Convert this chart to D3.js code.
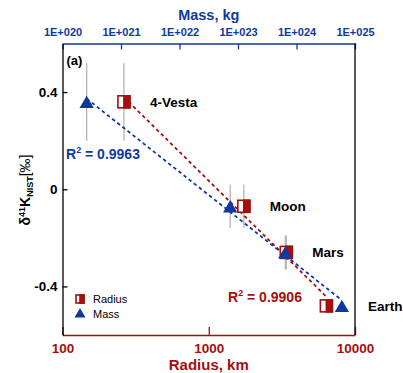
<!DOCTYPE html>
<html>
<head>
<meta charset="utf-8">
<title>d41K vs radius and mass</title>
<script src="https://d3js.org/d3.v7.min.js"></script>
<style>
  body { margin: 0; background: #fff; }
  text { font-family: "Liberation Sans", Arial, sans-serif; }
</style>
</head>
<body>
<div id="chart"></div>
<script>
// data
const bodies = ["4-Vesta", "Moon", "Mars", "Earth"];
const radiusKm = [263, 1737, 3390, 6371];
const massKg = [2.59e20, 7.35e22, 6.42e23, 5.97e24];
const delta41K = [0.36, -0.07, -0.26, -0.48];
const deltaErr = [0.16, 0.09, 0.07, 0.02];
const r2Radius = "0.9906";
const r2Mass = "0.9963";

const radiusTicks = [100, 1000, 10000];
const massTicks = [1e20, 1e21, 1e22, 1e23, 1e24, 1e25];
const massTickLabels = ["1E+020", "1E+021", "1E+022", "1E+023", "1E+024", "1E+025"];
const yTicks = [-0.4, 0, 0.4];
const yTickLabels = ["-0.4", "0", "0.4"];
const yMinor = [-0.6, -0.2, 0.2, 0.6];

const red = "#a50f0f", blue = "#0f3a9c";

let W = 403, H = 373;
let margin = {top: 43.5, right: 48, bottom: 38, left: 62.5};
let w = W - margin.left - margin.right;
let h = H - margin.top - margin.bottom;

let svg = d3.select("#chart").append("svg")
    .attr("width", W).attr("height", H);
let g = svg.append("g")
    .attr("transform", "translate(" + margin.left + "," + margin.top + ")");

let xR = d3.scaleLog().domain([100, 10000]).range([0, w]);
let xM = d3.scaleLog().domain([1e20, 1e25]).range([0, w]);
let y = d3.scaleLinear().domain([-0.6, 0.6]).range([h, 0]);

// minor ticks for log axes
function logMinor(scale) {
    let [a, b] = scale.domain();
    let out = [];
    for (let e = Math.log10(a); e < Math.log10(b); e++)
        for (let k = 2; k <= 9; k++) out.push(k * Math.pow(10, e));
    return out;
}

// bottom axis (radius)
let gb = g.append("g").attr("transform", "translate(0," + h + ")");
gb.call(d3.axisBottom(xR).tickValues(logMinor(xR)).tickSize(-5).tickSizeOuter(0).tickFormat(""));
gb.call(d3.axisBottom(xR).tickValues(radiusTicks).tickSize(-8).tickSizeOuter(0).tickPadding(8.5).tickFormat(d3.format("d")));
gb.selectAll("path,line").attr("stroke", red).attr("stroke-width", 1.3);
gb.selectAll("text").attr("fill", red).attr("font-size", "13.5px").attr("font-weight", "bold").attr("font-family", "Liberation Sans, Arial, sans-serif");

// top axis (mass)
let gt = g.append("g");
gt.call(d3.axisTop(xM).tickValues(logMinor(xM)).tickSize(-3.5).tickSizeOuter(0).tickFormat(""));
gt.call(d3.axisTop(xM).tickValues(massTicks).tickSize(-6).tickSizeOuter(0).tickPadding(7.5)
    .tickFormat((d, i) => massTickLabels[i]));
gt.selectAll("path,line").attr("stroke", blue).attr("stroke-width", 1.3);
gt.selectAll("text").attr("fill", blue).attr("font-size", "11px").attr("font-weight", "bold").attr("font-family", "Liberation Sans, Arial, sans-serif");

// left axis
let gl = g.append("g");
gl.call(d3.axisLeft(y).tickValues(yMinor).tickSize(-5).tickSizeOuter(0).tickFormat(""));
gl.call(d3.axisLeft(y).tickValues(yTicks).tickSize(-5).tickSizeOuter(0).tickPadding(5)
    .tickFormat((d, i) => yTickLabels[i]));
gl.selectAll("path,line").attr("stroke", "#000").attr("stroke-width", 1.3);
gl.selectAll("text").attr("fill", "#000").attr("font-size", "13.5px").attr("font-weight", "bold").attr("font-family", "Liberation Sans, Arial, sans-serif");

// right frame
g.append("line").attr("x1", w).attr("x2", w).attr("y1", 0).attr("y2", h)
    .attr("stroke", "#000").attr("stroke-width", 1.3);

// axis titles
svg.append("text").attr("x", margin.left + w / 2).attr("y", 370)
    .attr("text-anchor", "middle").attr("font-size", "15px").attr("font-weight", "bold")
    .attr("fill", red).text("Radius, km");
svg.append("text").attr("x", margin.left + w / 2).attr("y", 20)
    .attr("text-anchor", "middle").attr("font-size", "14.5px").attr("font-weight", "bold")
    .attr("fill", blue).text("Mass, kg");

let yt = svg.append("text").attr("transform", "translate(30,190) rotate(-90)")
    .attr("text-anchor", "middle").attr("font-size", "14px").attr("font-weight", "bold");
yt.append("tspan").text("δ");
yt.append("tspan").attr("font-size", "9px").attr("dy", -5).text("41");
yt.append("tspan").attr("dy", 5).text("K");
yt.append("tspan").attr("font-size", "9px").attr("dy", 3).text("NIST");
yt.append("tspan").attr("dy", -3).attr("font-weight", "normal").text("[‰]");

// error bars
let data = bodies.map((b, i) => ({name: b, r: radiusKm[i], m: massKg[i], d: delta41K[i], e: deltaErr[i]}));
["r", "m"].forEach(function(k) {
    let sx = k === "r" ? xR : xM;
    g.selectAll("line.err-" + k).data(data).enter().append("line")
        .attr("class", "err-" + k)
        .attr("x1", d => sx(d[k])).attr("x2", d => sx(d[k]))
        .attr("y1", d => y(d.d + d.e)).attr("y2", d => y(d.d - d.e))
        .attr("stroke", "#b0b0b0").attr("stroke-width", 1.2);
});

// regression lines in log space
function fitLine(xs, ys) {
    let lx = xs.map(Math.log10);
    let mx = d3.mean(lx), my = d3.mean(ys);
    let sxy = d3.sum(lx, (v, i) => (v - mx) * (ys[i] - my));
    let sxx = d3.sum(lx, v => (v - mx) * (v - mx));
    let b = sxy / sxx, a = my - b * mx;
    let x0 = d3.min(xs), x1 = d3.max(xs);
    return [[x0, a + b * Math.log10(x0)], [x1, a + b * Math.log10(x1)]];
}
let fitR = fitLine(radiusKm, delta41K);
let fitM = fitLine(massKg, delta41K);
g.append("line")
    .attr("x1", xR(fitR[0][0])).attr("y1", y(fitR[0][1]))
    .attr("x2", xR(fitR[1][0])).attr("y2", y(fitR[1][1]))
    .attr("stroke", red).attr("stroke-width", 1.8).attr("stroke-dasharray", "3.5,3");
g.append("line")
    .attr("x1", xM(fitM[0][0])).attr("y1", y(fitM[0][1]))
    .attr("x2", xM(fitM[1][0])).attr("y2", y(fitM[1][1]))
    .attr("stroke", blue).attr("stroke-width", 1.8).attr("stroke-dasharray", "3.5,3");

// markers
function halfSquare(sel, s) {
    sel.append("rect").attr("x", -s / 2).attr("y", -s / 2).attr("width", s).attr("height", s)
        .attr("fill", "#fff").attr("stroke", red).attr("stroke-width", 1.6);
    sel.append("rect").attr("x", 0).attr("y", -s / 2).attr("width", s / 2).attr("height", s)
        .attr("fill", red).attr("stroke", red).attr("stroke-width", 1.6);
}
function triangle(sel, s) {
    sel.append("path")
        .attr("d", "M0," + (-s * 0.55) + "L" + (s * 0.55) + "," + (s * 0.4) + "L" + (-s * 0.55) + "," + (s * 0.4) + "Z")
        .attr("fill", blue);
}

g.selectAll("g.sq").data(data).enter().append("g").attr("class", "sq")
    .attr("transform", d => "translate(" + xR(d.r) + "," + y(d.d) + ")")
    .each(function() { halfSquare(d3.select(this), 12); });
g.selectAll("g.tri").data(data).enter().append("g").attr("class", "tri")
    .attr("transform", d => "translate(" + xM(d.m) + "," + (y(d.d) + 1) + ")")
    .each(function() { triangle(d3.select(this), 13); });

// body labels
g.selectAll("text.body").data(data).enter().append("text").attr("class", "body")
    .attr("x", d => Math.max(xR(d.r), xM(d.m)) + 26)
    .attr("y", d => y(d.d) + 5)
    .attr("font-size", "13.5px").attr("font-weight", "bold").attr("fill", "#000")
    .text(d => d.name);

// (a)
g.append("text").attr("x", 4).attr("y", 21).attr("font-size", "13px").attr("font-weight", "bold").text("(a)");

// R^2 labels
function r2(x, yy, val, col) {
    let t = svg.append("text").attr("x", x).attr("y", yy).attr("font-size", "14px")
        .attr("font-weight", "bold").attr("fill", col);
    t.append("tspan").text("R");
    t.append("tspan").attr("font-size", "9px").attr("dy", -6).text("2");
    t.append("tspan").attr("dy", 6).text(" = " + val);
}
r2(66, 159, r2Mass, blue);
r2(228, 302, r2Radius, red);

// legend
let lg = svg.append("g").attr("transform", "translate(80,299)");
let l1 = lg.append("g");
halfSquare(l1, 8);
lg.append("text").attr("x", 13).attr("y", 4).attr("font-size", "11px").text("Radius");
let l2 = lg.append("g").attr("transform", "translate(0,14.5)");
triangle(l2, 10);
lg.append("text").attr("x", 13).attr("y", 18.5).attr("font-size", "11px").text("Mass");
</script>
</body>
</html>
